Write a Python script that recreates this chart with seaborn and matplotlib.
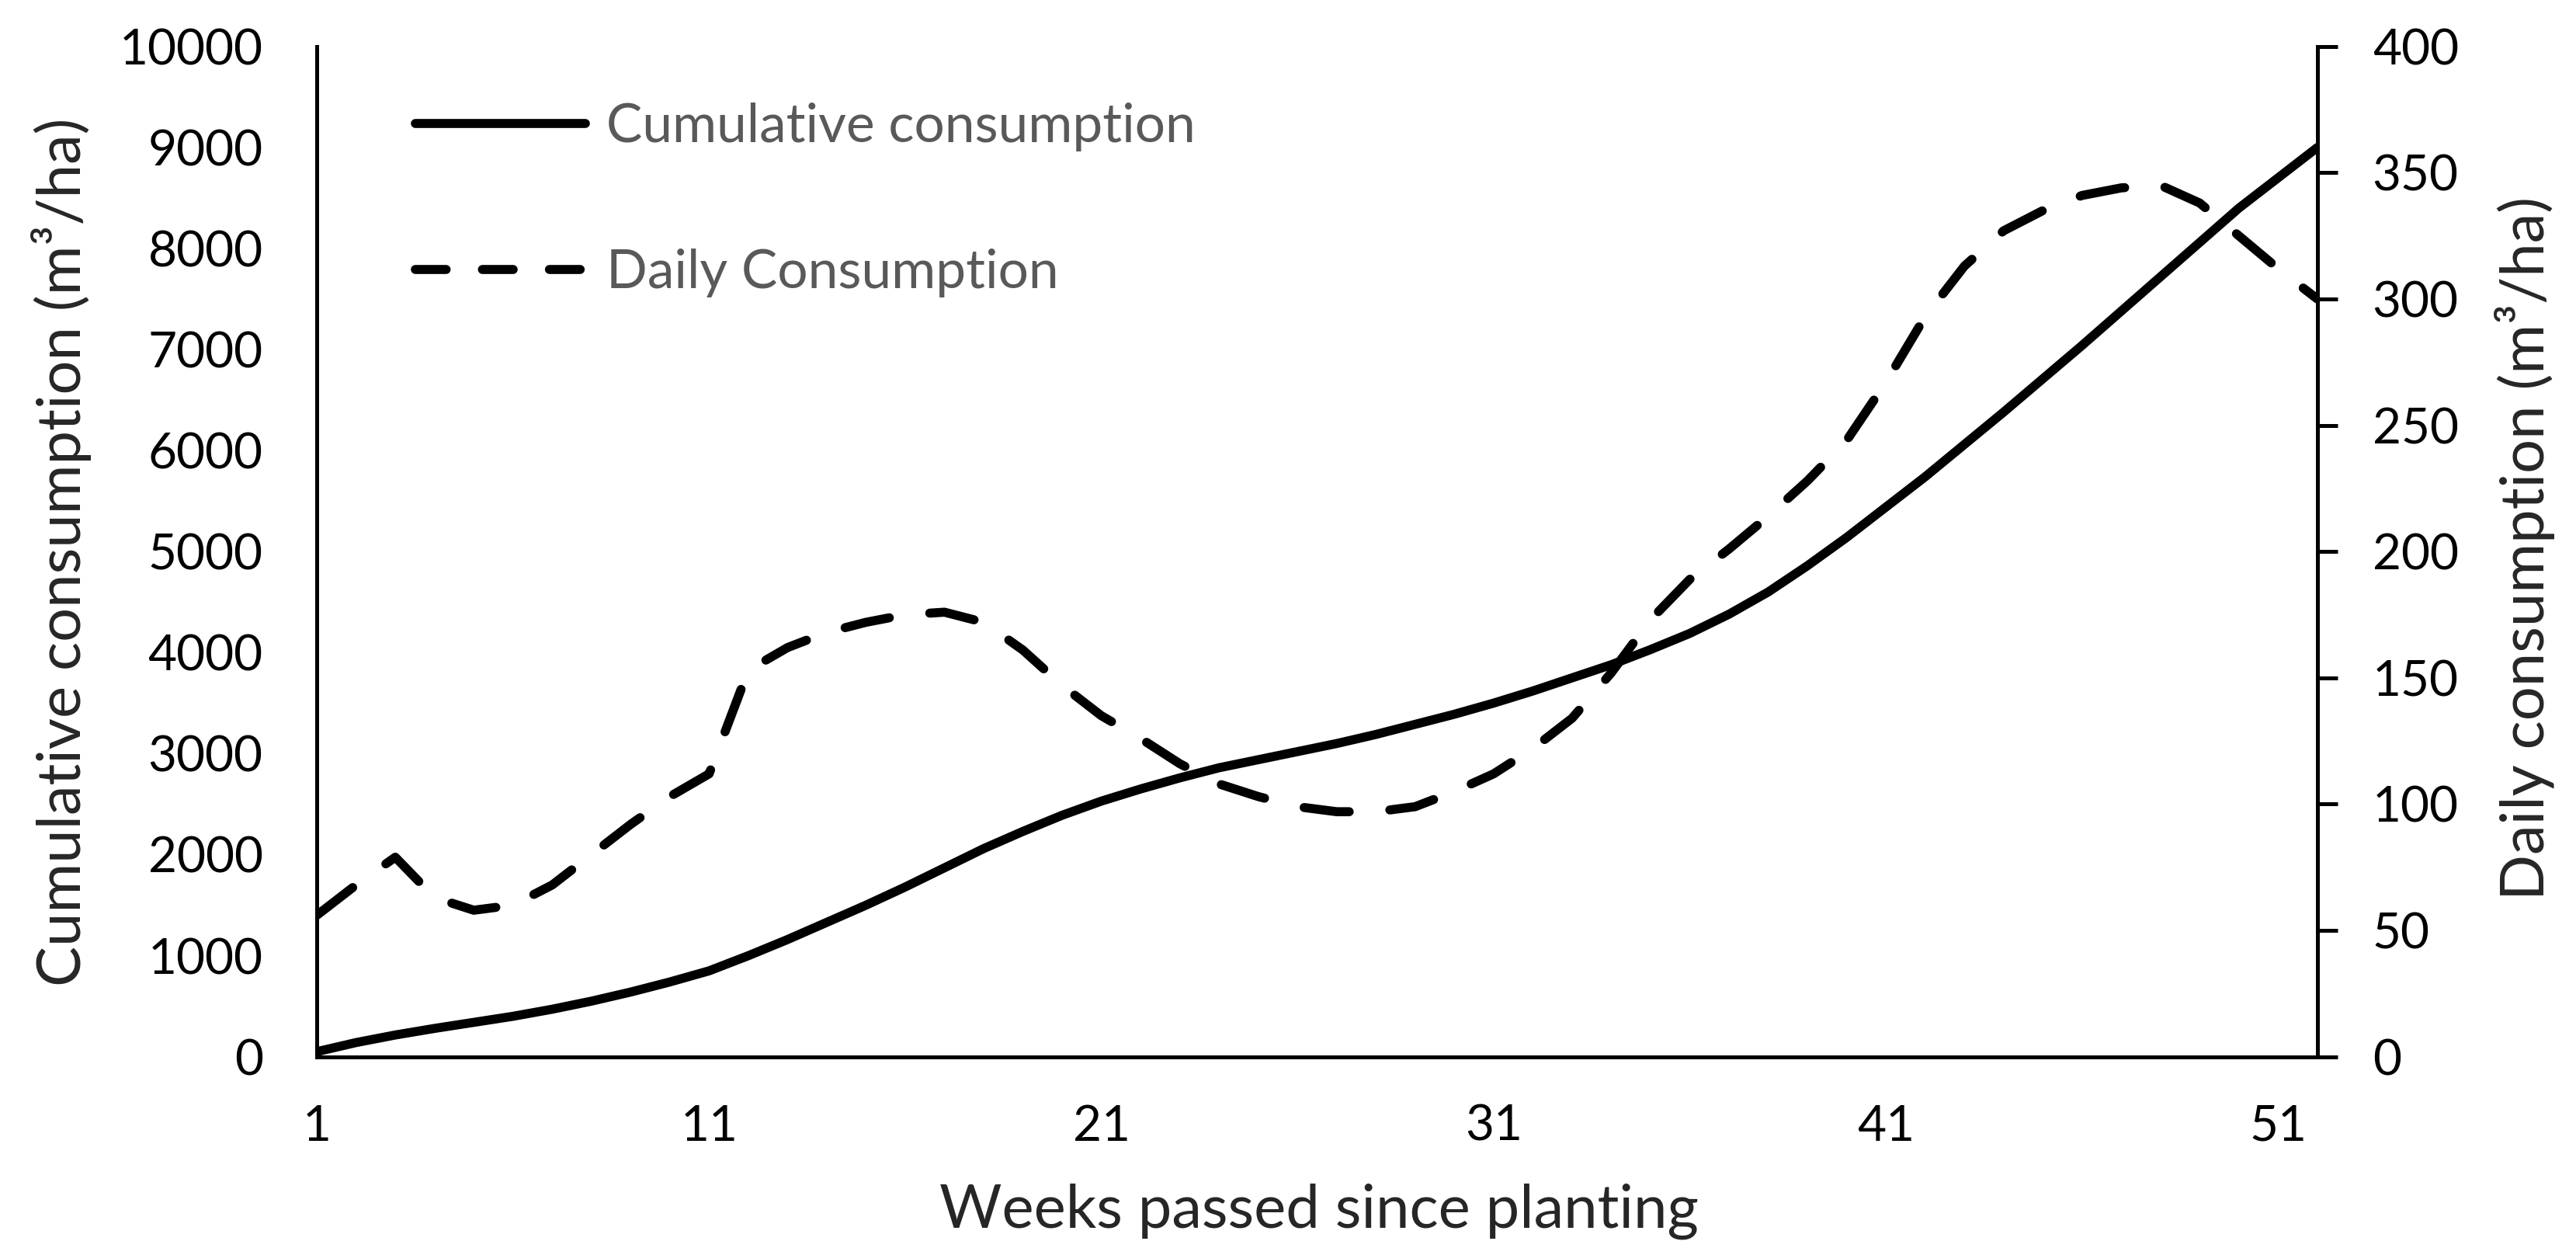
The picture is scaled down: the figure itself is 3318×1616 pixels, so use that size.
import numpy as np
import pandas as pd
import matplotlib
matplotlib.use('Agg')
import matplotlib.pyplot as plt
from matplotlib.lines import Line2D
import seaborn as sns

# Data (weekly values)
weeks = list(range(1, 53))
cumulative = [50, 140, 215, 280, 340, 400, 470, 550, 640, 740,
              850, 1000, 1160, 1330, 1500, 1680, 1870, 2060, 2230, 2390,
              2530, 2650, 2760, 2860, 2940, 3020, 3100, 3190, 3290, 3390,
              3500, 3620, 3750, 3880, 4030, 4190, 4380, 4600, 4860, 5140,
              5440, 5740, 6060, 6380, 6710, 7040, 7380, 7720, 8060, 8400,
              8700, 9000]
daily = [56, 68, 79, 63, 58, 60, 68, 80, 92, 103,
         112, 153, 162, 168, 172, 175, 176, 172, 161, 147,
         135, 126, 116, 108, 103, 99, 97, 97, 99, 105,
         112, 122, 134, 152, 173, 189, 201, 214, 228, 244,
         267, 293, 313, 327, 335, 341, 344, 345, 338, 325,
         312, 300]
xticks = [1, 11, 21, 31, 41, 51]
left_ticks = list(range(0, 10001, 1000))
right_ticks = list(range(0, 401, 50))
series_labels = ['Cumulative consumption', 'Daily Consumption']

df = pd.DataFrame({'week': weeks, 'cumulative': cumulative, 'daily': daily})

sns.set_theme(style='white')
plt.rcParams['font.family'] = ['Lato', 'DejaVu Sans']

fig = plt.figure(figsize=(16.59, 8.08), dpi=200)
ax = fig.add_axes([0.123, 0.158, 0.7766, 0.805])
ax2 = ax.twinx()

# solid = cumulative on left axis, dashed = daily on right axis
sns.lineplot(data=df, x='week', y='cumulative', ax=ax, color='black', lw=4.2,
             solid_capstyle='round', solid_joinstyle='round', legend=False)
sns.lineplot(data=df, x='week', y='daily', ax=ax2, color='black', lw=4.2,
             linestyle=(0, (5, 4.5)), dash_capstyle='round',
             dash_joinstyle='round', legend=False)

ax.set_xlim(1, 52)
ax.set_ylim(0, 10000)
ax2.set_ylim(0, 400)
ax.set_xticks(xticks)
ax.set_yticks(left_ticks)
ax2.set_yticks(right_ticks)
ax.set_xlabel('')
ax.set_ylabel('')
ax2.set_ylabel('')

for a in (ax, ax2):
    for s in a.spines.values():
        s.set_visible(False)
ax.spines['left'].set_visible(True)
ax.spines['bottom'].set_visible(True)
ax2.spines['right'].set_visible(True)
for s in (ax.spines['left'], ax.spines['bottom'], ax2.spines['right']):
    s.set_linewidth(1.8)
    s.set_color('black')

ax.tick_params(axis='y', length=0, pad=25, labelsize=23, colors='black')
ax.tick_params(axis='x', length=0, pad=22, labelsize=23, colors='black')
ax2.tick_params(axis='y', right=True, length=9.5, width=1.8, pad=16,
                labelsize=23, colors='black', direction='out')
ax.grid(False)
ax2.grid(False)

fig.text(0.0238, 0.560, 'Cumulative consumption (m³/ha)', rotation=90,
         ha='center', va='center', fontsize=28)
fig.text(0.980, 0.563, 'Daily consumption (m³/ha)', rotation=90,
         ha='center', va='center', fontsize=28)
fig.text(0.512, 0.035, 'Weeks passed since planting',
         ha='center', va='center', fontsize=28)

# legend handles: legend dashes are a bit shorter than on the curve
handles = [
    Line2D([], [], color='black', lw=4.2, solid_capstyle='round'),
    Line2D([], [], color='black', lw=4.2, linestyle=(0, (3.4, 4)),
           dash_capstyle='round'),
]
leg = ax2.legend(handles, series_labels, loc='center left',
                 bbox_to_anchor=(0.1612, 0.8407), bbox_transform=fig.transFigure,
                 frameon=False, fontsize=25, handlelength=3.15, handletextpad=0.4,
                 labelspacing=1.8, borderpad=0, borderaxespad=0)
for t in leg.get_texts():
    t.set_color('#595959')

fig.savefig('out.png', dpi=200)
